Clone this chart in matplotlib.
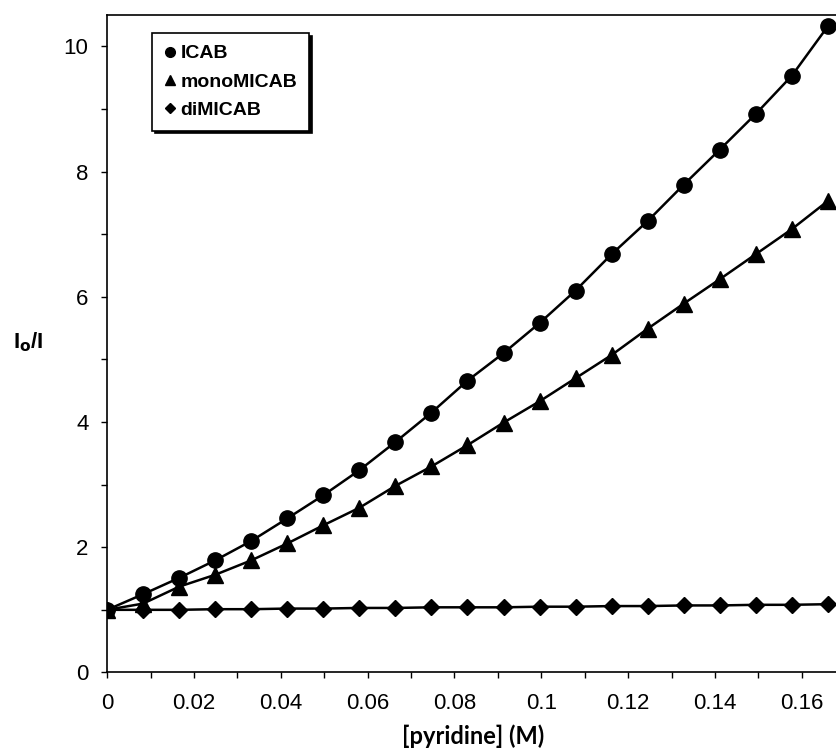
import matplotlib
matplotlib.use('Agg')
import matplotlib.pyplot as plt
from matplotlib.lines import Line2D
from matplotlib.ticker import MultipleLocator

# pyridine concentration (M)
conc = [0, 0.0083, 0.0166, 0.0249, 0.0332, 0.0415, 0.0498, 0.0581, 0.0664, 0.0747, 0.083,
        0.0913, 0.0996, 0.1079, 0.1162, 0.1245, 0.1328, 0.1411, 0.1494, 0.1577, 0.166]

icab = [1.0, 1.25, 1.51, 1.79, 2.10, 2.46, 2.83, 3.23, 3.68, 4.15, 4.66,
        5.10, 5.58, 6.10, 6.68, 7.21, 7.79, 8.35, 8.92, 9.53, 10.32]
mono = [1.0, 1.10, 1.37, 1.56, 1.79, 2.06, 2.35, 2.63, 2.98, 3.29, 3.63,
        3.99, 4.33, 4.70, 5.07, 5.49, 5.89, 6.28, 6.68, 7.08, 7.53]
dimicab = [1.00, 1.00, 1.00, 1.01, 1.01, 1.02, 1.02, 1.03, 1.03, 1.04, 1.04,
           1.04, 1.05, 1.05, 1.06, 1.06, 1.07, 1.07, 1.08, 1.08, 1.09]

xtick_labels = ['0', '0.02', '0.04', '0.06', '0.08', '0.1', '0.12', '0.14', '0.16']

plt.rcParams['font.family'] = 'Liberation Sans'

fig = plt.figure(figsize=(8.37, 7.53), dpi=100)
ax = fig.add_axes([0.128, 0.107, 0.874, 0.873])

ax.plot(conc, icab, 'k-', lw=1.8, marker='o', ms=11)
ax.plot(conc, mono, 'k-', lw=1.8, marker='^', ms=11)
ax.plot(conc, dimicab, 'k-', lw=1.8, marker='D', ms=8)

ax.set_xlim(0, 0.1685)
ax.set_ylim(0, 10.5)
ax.xaxis.set_minor_locator(MultipleLocator(0.01))
ax.yaxis.set_major_locator(MultipleLocator(2))
ax.yaxis.set_minor_locator(MultipleLocator(1))
ax.set_xticks([0, 0.02, 0.04, 0.06, 0.08, 0.1, 0.12, 0.14, 0.16])
ax.set_xticklabels(xtick_labels)
ax.tick_params(which='both', direction='out', length=4.5, width=1, labelsize=16)
ax.tick_params(axis='x', pad=10)
ax.tick_params(axis='y', pad=9)
for s in ax.spines.values():
    s.set_linewidth(1.2)

ax.set_xlabel('[pyridine] (M)', fontfamily='Lato', fontweight='bold', fontsize=17, labelpad=8)
fig.text(0.034, 1 - 342 / 753, r'I$_\mathbf{o}$/I', fontsize=16, fontweight='bold',
         ha='center', va='center')

handles = [Line2D([], [], color='k', ls='none', marker='o', ms=7),
           Line2D([], [], color='k', ls='none', marker='^', ms=7),
           Line2D([], [], color='k', ls='none', marker='D', ms=5)]
leg = ax.legend(handles, ['ICAB', 'monoMICAB', 'diMICAB'], loc='upper left',
                bbox_to_anchor=(0.0615, 0.9726), borderaxespad=0, fancybox=False,
                framealpha=1, edgecolor='k', prop={'weight': 'bold', 'size': 14},
                handlelength=0.6, handletextpad=0.25, labelspacing=0.55,
                borderpad=0.6, shadow={'color': 'k', 'alpha': 1})
leg.get_frame().set_linewidth(1.2)

fig.savefig('out.png', dpi=100)
